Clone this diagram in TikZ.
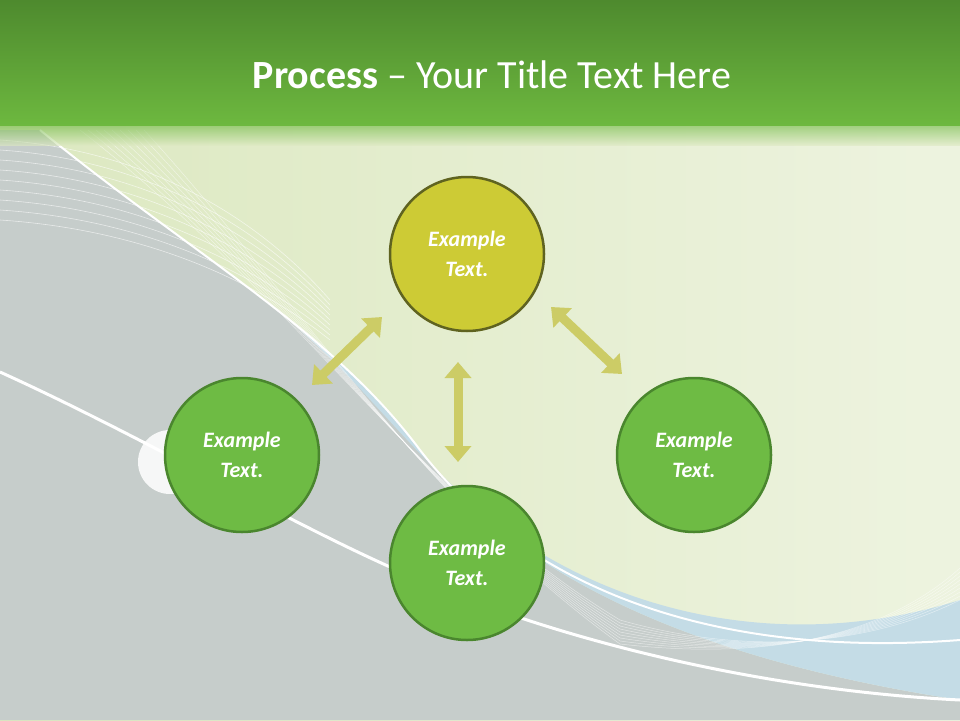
\documentclass[tikz,border=0pt]{standalone}
\usepackage{fontspec}
\setmainfont{Carlito}
\usetikzlibrary{arrows.meta}
\definecolor{topg}{HTML}{4E8A2E}
\definecolor{botg}{HTML}{6DB83F}
\definecolor{bgl}{HTML}{DCE8C0}
\definecolor{greyb}{HTML}{C6CDCB}
\definecolor{blueb}{HTML}{C4DCE6}
\definecolor{ycirc}{HTML}{CDCB35}
\definecolor{ybord}{HTML}{5F6320}
\definecolor{gcirc}{HTML}{6EBB44}
\definecolor{gbord}{HTML}{4A862E}
\definecolor{arr}{HTML}{CCCC66}
\tikzset{
  stepcircle/.style={circle,minimum size=154pt,line width=2.5pt,draw=gbord,fill=gcirc,
    text=white,font=\bfseries\itshape\fontsize{22}{30}\selectfont,align=center},
  topcircle/.style={stepcircle,fill=ycirc,draw=ybord},
  dblarrow/.style={arr,line width=9pt,{Triangle[width=26pt,length=16pt]}-{Triangle[width=26pt,length=16pt]}}
}
\begin{document}
\begin{tikzpicture}[x=1pt,y=-1pt]
\useasboundingbox (0,0) rectangle (960,720);
\shade[left color=bgl,right color=bgl!50!white] (0,0) rectangle (960,720);
% grey-blue region
\fill[greyb] (0,130) -- (40,130) .. controls (200,260) and (330,330) .. (420,450)
  .. controls (520,580) and (700,660) .. (960,700) -- (960,720) -- (0,720) -- cycle;
% blue band
\fill[blueb] (300,330) .. controls (380,400) and (420,470) .. (520,540)
  .. controls (640,620) and (800,650) .. (960,600) -- (960,700)
  .. controls (700,660) and (520,580) .. (420,450) .. controls (380,400) and (340,360) .. (300,330) -- cycle;
% thin lines
\foreach \i in {0,...,8}{
  \draw[white,opacity=0.6,line width=0.6pt] (0,140+\i*10) .. controls (150,150+\i*10) and (260,220+\i*8) .. (330,300+\i*5);
  \draw[white,opacity=0.5,line width=0.5pt] (80+\i*8,130) .. controls (300,300) and (420,500) .. (620,620+\i*3) .. controls (760,660) and (880,640) .. (960,600-\i*4);
}
\draw[white,line width=2pt] (40,130) .. controls (200,260) and (330,330) .. (420,450)
  .. controls (520,580) and (700,660) .. (960,640);
\draw[white,line width=3pt] (0,372) .. controls (150,440) and (300,530) .. (420,580)
  .. controls (560,640) and (760,690) .. (960,700);
% title band
\shade[top color=topg,bottom color=botg] (0,0) rectangle (960,125);
\shade[top color=botg,bottom color=bgl,opacity=0.6] (0,125) rectangle (960,145);
\node[text=white,font=\fontsize{40}{46}\selectfont] (title) at (492,75) {\textbf{Process} – Your Title Text Here};
% small circle
\fill[white,opacity=0.85] (170,462) circle (32pt);
% arrows
\coordinate (a1) at (312,385); \coordinate (a2) at (382,317);
\coordinate (b1) at (551,307); \coordinate (b2) at (622,374);
\coordinate (c1) at (458,362); \coordinate (c2) at (458,462);
\draw[dblarrow] (a1) -- (a2);
\draw[dblarrow] (b1) -- (b2);
\draw[dblarrow] (c1) -- (c2);
% circles
\node[topcircle] (top) at (467,254) {Example\\Text.};
\node[stepcircle] (left) at (242,455) {Example\\Text.};
\node[stepcircle] (bottom) at (467,563) {Example\\Text.};
\node[stepcircle] (right) at (694,455) {Example\\Text.};
\end{tikzpicture}
\end{document}
